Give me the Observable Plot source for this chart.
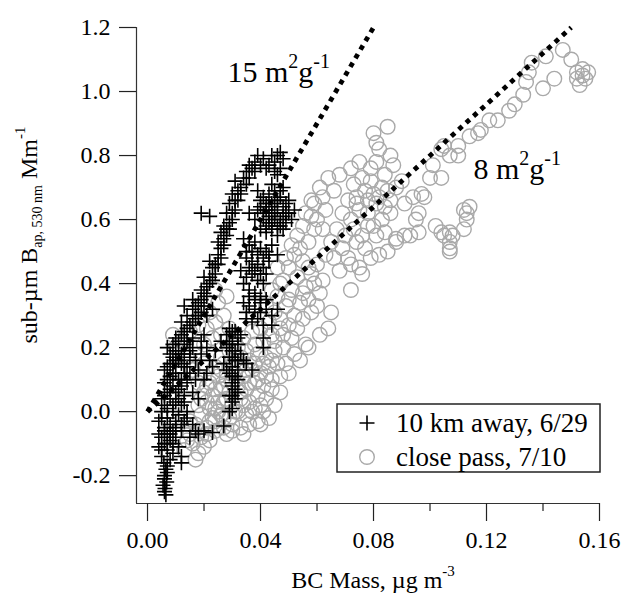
<!DOCTYPE html>
<html><head><meta charset="utf-8">
<script src="https://cdn.jsdelivr.net/npm/d3@7"></script>
<script src="https://cdn.jsdelivr.net/npm/@observablehq/plot@0.6"></script>
<style>
html,body{margin:0;padding:0;background:#fff;}
#wrap{width:640px;height:596px;}
</style></head><body><div id="wrap"></div>
<script>
// "+" series: 10 km away, 6/29  [BC mass, Bap]
const tenKm = [
[.006,-.25],[.0062,-.24],[.0055,-.23],[.0068,-.22],[.006,-.20],[.0065,-.18],[.007,-.17],[.0058,-.16],[.008,-.15],[.005,-.14],[.009,-.13],[.007,-.12],[.004,-.11],[.006,-.10],[.008,-.09],[.005,-.08],[.010,-.08],[.012,-.14],[.011,-.11],[.009,-.06],[.012,-.16],[.007,-.07],
[.004,-.07],[.006,-.05],[.008,-.04],[.010,-.05],[.012,-.06],[.007,-.02],[.005,0],[.009,0],[.011,-.01],[.013,-.03],[.006,.02],[.008,.04],[.010,.03],[.012,.02],[.014,0],[.007,.06],[.009,.08],[.011,.07],[.013,.05],[.006,.09],[.008,.11],[.010,.12],[.012,.10],[.014,.09],[.007,.14],[.009,.15],[.011,.16],[.013,.14],[.008,.18],[.010,.19],[.012,.18],[.015,.17],[.009,.21],[.011,.22],[.013,.21],[.016,.20],[.005,.04],[.004,-.03],[.015,.12],[.017,.10],[.018,.13],[.021,.12],[.023,.14],[.016,.23],[.019,.22],[.020,.24],
[.005,-.12],[.007,-.10],[.009,-.10],[.006,-.06],[.008,-.07],[.010,-.03],[.012,-.04],[.005,-.02],[.007,.01],[.009,.02],[.011,.04],[.013,.03],[.006,.05],[.008,.07],[.010,.06],[.012,.08],[.007,.10],[.009,.12],[.011,.10],[.013,.12],[.006,.13],[.008,.15],[.010,.16],[.012,.15],[.014,.14],[.009,.17],[.011,.19],[.013,.18],[.007,.20],[.010,.23],[.012,.24],[.014,.22],[.015,.19],[.0065,-.26],[.006,-.21],[.007,-.19],
[.013,.25],[.015,.27],[.014,.30],[.017,.29],[.016,.32],[.019,.31],[.018,.34],[.020,.33],[.021,.36],[.019,.38],[.022,.40],[.020,.42],[.024,.43],[.023,.45],[.025,.46],[.022,.47],[.026,.48],[.027,.52],[.025,.53],[.028,.55],[.026,.56],[.029,.57],[.027,.58],[.030,.60],[.028,.62],[.031,.63],[.029,.65],[.032,.66],[.030,.68],[.033,.70],[.031,.72],[.034,.73],[.035,.75],[.036,.77],[.037,.76],[.038,.78],[.040,.77],[.041,.79],[.039,.80],[.043,.77],[.045,.78],[.046,.80],[.047,.81],[.048,.79],[.047,.76],[.046,.74],[.019,.62],[.022,.61],[.012,.28],[.013,.33],[.016,.35],[.021,.30],[.023,.32],
[.014,.26],[.016,.28],[.018,.30],[.017,.33],[.019,.35],[.020,.37],[.021,.39],[.022,.42],[.023,.41],[.024,.46],[.025,.49],[.026,.51],[.027,.54],[.028,.57],[.029,.59],[.030,.62],[.031,.66],[.032,.69],[.033,.68],[.035,.71],[.036,.73],[.038,.75],[.042,.76],[.044,.80],[.045,.75],
[.039,.69],[.041,.67],[.043,.68],[.045,.66],[.047,.67],[.049,.65],[.040,.64],[.042,.63],[.044,.62],[.046,.63],[.048,.61],[.050,.62],[.041,.60],[.043,.59],[.045,.60],[.047,.58],[.049,.59],[.051,.60],[.040,.57],[.042,.56],[.044,.57],[.046,.55],[.038,.60],[.036,.62],[.050,.66],[.052,.63],[.048,.70],[.044,.71],
[.040,.66],[.042,.65],[.044,.65],[.046,.66],[.048,.64],[.041,.62],[.043,.61],[.045,.62],[.047,.60],[.049,.62],[.042,.58],[.044,.59],[.046,.58],[.048,.57],[.039,.63],[.043,.64],[.045,.69],[.047,.69],
[.034,.54],[.036,.52],[.038,.53],[.040,.51],[.042,.50],[.044,.52],[.046,.49],[.035,.48],[.037,.47],[.039,.46],[.041,.45],[.043,.47],[.033,.44],[.035,.42],[.037,.43],[.039,.41],[.041,.40],[.036,.38],[.038,.37],[.040,.36],[.042,.35],[.034,.34],[.036,.33],[.038,.32],[.040,.31],[.044,.30],[.046,.32],[.035,.29],[.037,.28],[.041,.27],
[.035,.50],[.037,.50],[.039,.49],[.041,.48],[.043,.49],[.036,.45],[.038,.44],[.040,.43],[.042,.43],[.034,.40],[.036,.36],[.038,.35],[.040,.34],[.035,.31],[.039,.29],[.042,.32],[.044,.27],
[.029,.26],[.031,.25],[.033,.24],[.030,.22],[.032,.21],[.028,.20],[.030,.19],[.033,.18],[.029,.17],[.031,.16],[.027,.15],[.030,.14],[.032,.13],[.029,.12],[.031,.11],[.030,.09],[.031,.07],[.030,.05],[.032,.06],[.030,.03],[.035,.15],[.037,.13],[.034,.16],[.041,.23],[.041,.20],[.026,.22],[.024,.19],
[.028,.24],[.030,.25],[.032,.23],[.029,.21],[.031,.19],[.030,.17],[.032,.16],[.028,.13],[.030,.11],[.032,.10],[.030,.08],[.029,.05],[.031,.04],[.030,.01],
[.017,.16],[.019,.18],[.021,.20],[.022,.16],[.020,.10],[.016,.06],[.018,.04],[.014,-.02],[.016,-.04],[.017,-.06],
[.029,0],[.027,-.045],[.023,-.065],[.020,-.06],[.018,-.07],[.015,-.08]
];
// "o" series: close pass, 7/10
const closePass = [
[.013,-.12],[.016,-.10],[.018,-.13],[.020,-.11],[.015,-.07],[.019,-.08],[.022,-.09],[.017,-.04],[.021,-.05],[.024,-.06],[.027,-.05],[.030,-.04],[.033,-.05],[.036,-.04],[.039,-.03],[.019,-.01],[.023,-.02],[.026,-.01],[.029,-.02],[.032,0],[.035,-.01],[.038,.01],[.041,0],[.018,.02],[.021,.03],[.024,.01],[.027,.03],[.030,.02],[.033,.04],[.036,.03],[.039,.05],[.042,.04],[.020,.06],[.023,.05],[.026,.07],[.029,.06],[.032,.08],[.035,.07],[.038,.09],[.041,.08],[.044,.10],[.022,.09],[.025,.11],[.028,.10],[.031,.12],[.034,.11],[.037,.13],[.040,.12],[.043,.14],[.046,.15],[.024,.14],[.027,.15],[.030,.16],[.033,.17],[.036,.16],[.039,.18],[.042,.17],[.045,.19],[.048,.20],[.025,0],[.022,-.03],[.028,-.07],[.034,-.07],[.040,-.04],[.043,-.02],[.045,.02],[.047,.06],[.044,.07],[.050,.12],[.054,.16],[.057,.20],[.017,-.15],[.014,-.09],[.020,.15],[.016,.13],[.018,.09],
[.015,-.03],[.018,-.06],[.021,-.07],[.024,-.03],[.027,-.02],[.030,-.06],[.031,.00],[.034,.02],[.037,.00],[.040,.02],[.028,.04],[.025,.03],[.022,.01],[.019,.04],[.021,.08],[.024,.07],[.027,.08],[.030,.09],[.033,.06],[.036,.09],[.039,.10],[.042,.11],[.023,.12],[.026,.13],[.029,.14],[.032,.14],[.035,.13],[.038,.15],[.041,.15],[.044,.16],[.026,.17],[.029,.19],[.032,.20],[.035,.19],[.038,.21],[.041,.22],[.044,.24],[.047,.26],[.034,.23],[.037,.25],[.040,.26],[.043,.28],[.031,.22],[.028,.22],
[.012,.22],[.015,.25],[.018,.27],[.021,.26],[.024,.28],[.027,.30],[.017,.20],[.020,.21],[.014,.17],[.023,.23],[.026,.24],[.029,.26],[.022,.31],[.025,.34],[.028,.36],[.024,.38],[.010,.20],[.009,.24],
[.045,.22],[.048,.24],[.051,.23],[.050,.27],[.053,.26],[.047,.29],[.052,.30],[.055,.29],[.058,.31],[.049,.33],[.054,.34],[.057,.35],[.060,.33],[.065,.31],[.046,.36],[.051,.38],[.056,.39],[.061,.37],[.048,.41],[.053,.42],[.058,.43],[.050,.45],[.055,.47],[.060,.46],[.052,.49],[.054,.51],[.057,.53],[.059,.57],[.062,.57],[.065,.53],[.067,.57],[.069,.51],[.058,.61],[.059,.65],[.061,.70],[.064,.73],[.066,.69],[.068,.74],[.072,.76],[.075,.78],[.060,.60],[.063,.63],[.062,.67],[.064,.26],[.061,.24],[.056,.21],[.052,.18],[.049,.15],[.047,.11],[.072,.38],
[.045,.31],[.042,.33],[.044,.38],[.047,.40],[.046,.45],[.049,.48],[.051,.52],[.053,.55],[.055,.58],[.056,.62],[.058,.66],[.050,.35],[.055,.37],[.059,.40],[.062,.41],[.057,.45],[.063,.49],[.066,.48],
[.072,.46],[.075,.45],[.076,.43],[.079,.48],[.082,.49],[.085,.50],[.088,.53],[.072,.60],[.075,.63],[.078,.62],[.081,.65],[.084,.64],[.074,.67],[.077,.69],[.080,.68],[.083,.70],[.086,.66],[.073,.71],[.079,.72],[.076,.73],[.081,.78],[.079,.76],[.086,.80],[.087,.77],[.082,.82],[.081,.84],[.080,.87],[.085,.89],[.070,.55],[.073,.57],[.076,.55],[.069,.62],[.071,.66],[.077,.51],[.080,.58],[.083,.60],[.086,.62],[.068,.44],[.071,.48],
[.074,.65],[.078,.66],[.082,.67],[.085,.69],[.088,.70],[.090,.72],[.084,.74],[.078,.58],[.074,.53],[.081,.55],[.084,.56],
[.088,.54],[.093,.55],[.096,.56],[.098,.67],[.100,.73],[.104,.73],[.107,.80],[.110,.80],[.102,.58],[.104,.56],[.107,.56],[.108,.55],[.107,.53],[.107,.51],[.107,.50],[.112,.57],[.113,.60],[.114,.64],[.112,.63],[.105,.55],[.113,.62],[.091,.55],[.096,.62],[.095,.60],[.091,.65],[.094,.67],[.097,.68],[.101,.77],
[.105,.83],[.110,.83],[.104,.82],[.118,.88],[.117,.87],[.121,.91],[.124,.91],[.130,.96],[.133,.99],[.134,1.03],[.135,1.06],[.136,1.09],[.141,1.11],[.140,1.01],[.144,1.04],[.147,1.13],[.150,1.10],[.152,1.06],[.154,1.07],[.155,1.04],[.153,1.02],[.156,1.06],[.154,1.05],[.152,1.04],[.128,.94],[.114,.86]
];
// reference lines y = k * x (mass absorption cross-sections)
const slopeNames = ["15", "8"];
const slopeValues = [15, 8];
const slopeEndX = [0.08, 0.15];
const labelX = [0.0283, 0.1154];
const labelY = [1.03, 0.726];
const xTicks = [0, 0.04, 0.08, 0.12, 0.16];
const xMinorTicks = [0.02, 0.06, 0.10, 0.14];
const yTicks = [-0.2, 0, 0.2, 0.4, 0.6, 0.8, 1.0, 1.2];
const legendLabels = ["10 km away, 6/29", "close pass, 7/10"];

const xDomain = [-0.0039, 0.16];
const yDomain = [-0.287, 1.2];
const FONT = "'Liberation Serif','Times New Roman',serif";

const refLines = slopeValues.map((k, i) => [
  {k: slopeNames[i], x: 0, y: 0},
  {k: slopeNames[i], x: slopeEndX[i], y: k * slopeEndX[i]}
]).flat();
const annotations = slopeNames.map((n, i) => ({name: n, x: labelX[i], y: labelY[i]}));

const plusSymbol = {
  draw(ctx, size) {
    const s = Math.sqrt(size / Math.PI);
    ctx.moveTo(-s, 0); ctx.lineTo(s, 0);
    ctx.moveTo(0, -s); ctx.lineTo(0, s);
  }
};

const svg = Plot.plot({
  width: 640, height: 596,
  marginLeft: 136, marginRight: 41, marginTop: 27, marginBottom: 93,
  style: {fontFamily: FONT, background: "white", color: "#000"},
  x: {domain: xDomain},
  y: {domain: yDomain},
  marks: [
    Plot.dot(closePass, {x: d => d[0], y: d => d[1], r: 7.3, stroke: "#a9a9a9", strokeWidth: 1.4, fill: "none"}),
    Plot.dot(tenKm, {x: d => d[0], y: d => d[1], r: 7.5, symbol: plusSymbol, stroke: "#000", strokeWidth: 1.6, fill: "none"}),
    Plot.line(refLines, {x: "x", y: "y", z: "k", stroke: "#000", strokeWidth: 4.8, strokeDasharray: "4.8,5.2", strokeLinecap: "butt"}),
    Plot.text(annotations, {x: "x", y: "y", text: "name", textAnchor: "start", lineAnchor: "bottom", fontSize: 30, fill: "#000", className: "anno"}),
    Plot.ruleX([xDomain[0]], {y1: yDomain[0], y2: yDomain[1], stroke: "#333", strokeWidth: 1.2}),
    Plot.ruleY([yDomain[0]], {x1: xDomain[0], x2: xTicks[xTicks.length - 1], stroke: "#333", strokeWidth: 1.2}),
    Plot.axisY({ticks: yTicks, tickSize: 17, tickPadding: 9, tickFormat: d => d.toFixed(1), fontSize: 24, label: null, stroke: "#222", strokeWidth: 1.2}),
    Plot.axisX({ticks: xTicks, tickSize: 18, tickPadding: 9, tickFormat: d => d.toFixed(2), fontSize: 24, label: null, stroke: "#222", strokeWidth: 1.2}),
    Plot.axisX({ticks: xMinorTicks, tickSize: 8, tickFormat: () => "", label: null, stroke: "#222", strokeWidth: 1.2})
  ]
});

const s = d3.select(svg);
s.selectAll(".anno text").each(function(d, i) {
  const t = d3.select(this);
  t.text(null);
  t.append("tspan").text(annotations[i].name + " m");
  t.append("tspan").attr("dy", -14).attr("font-size", 20).text("2");
  t.append("tspan").attr("dy", 14).attr("font-size", 30).text("g");
  t.append("tspan").attr("dy", -14).attr("font-size", 20).text("-1");
});

// y axis title
const yt = s.append("text").attr("transform", "translate(37,235) rotate(-90)")
  .attr("text-anchor", "middle").attr("font-family", FONT).attr("font-size", 24).attr("fill", "#000");
yt.append("tspan").text("sub-\u00b5m B");
yt.append("tspan").attr("font-size", 14).attr("dy", 5).text("ap, 530 nm");
yt.append("tspan").attr("dy", -5).attr("font-size", 24).text(" Mm");
yt.append("tspan").attr("font-size", 15).attr("dy", -12).text("-1");

// x axis title
const xt = s.append("text").attr("x", 373).attr("y", 588)
  .attr("text-anchor", "middle").attr("font-family", FONT).attr("font-size", 24).attr("fill", "#000");
xt.append("tspan").text("BC Mass, \u00b5g m");
xt.append("tspan").attr("font-size", 15).attr("dy", -12).text("-3");

// legend
const lg = s.append("g").attr("font-family", FONT).attr("font-size", 27).attr("text-anchor", "start");
lg.append("rect").attr("x", 337).attr("y", 404).attr("width", 263).attr("height", 68)
  .attr("fill", "white").attr("stroke", "#222").attr("stroke-width", 1.5);
lg.append("path").attr("d", "M359.5,423H374.5M367,415.5V430.5").attr("stroke", "#000").attr("stroke-width", 1.6);
lg.append("circle").attr("cx", 367).attr("cy", 457).attr("r", 7.3).attr("fill", "none").attr("stroke", "#a9a9a9").attr("stroke-width", 1.4);
legendLabels.forEach((t, i) => {
  lg.append("text").attr("x", 396).attr("y", 432 + i * 34).attr("fill", "#000").attr("text-anchor", "start").text(t);
});

document.getElementById("wrap").appendChild(svg);
</script></body></html>
